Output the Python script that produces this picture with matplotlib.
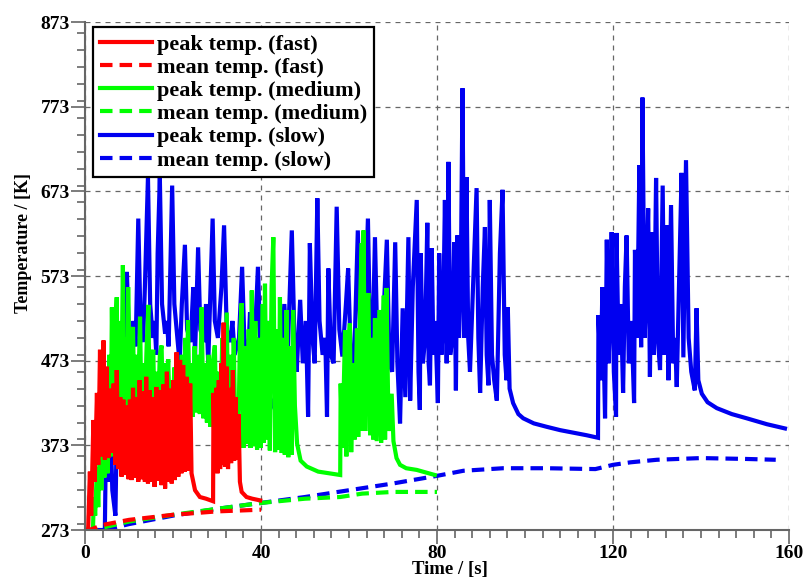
import matplotlib
matplotlib.use("Agg")
import matplotlib.pyplot as plt
from matplotlib.ticker import MultipleLocator

# (time [s], temperature [K]) vertices
fast_peak = [
    (0, 273), (0.7, 273), (1.1, 342), (1.4, 290), (1.9, 403), (2.2, 330), (2.7, 435),
    (3.0, 350), (3.4, 486), (3.7, 360), (4.2, 497), (4.5, 356), (4.9, 466), (5.3, 358),
    (5.7, 440), (6.1, 364), (6.5, 446), (6.9, 350), (7.2, 462), (7.6, 345), (8.0, 430),
    (8.3, 336), (8.7, 427), (9.1, 338), (9.5, 420), (9.9, 333), (10.2, 427), (10.6, 332),
    (10.9, 441), (11.3, 335), (11.7, 430), (12.1, 330), (12.4, 450), (12.8, 333),
    (13.2, 437), (13.6, 330), (13.9, 454), (14.3, 328), (14.7, 438), (15.1, 330),
    (15.5, 430), (15.8, 324), (16.2, 442), (16.6, 331), (17.0, 438), (17.4, 326),
    (17.8, 445), (18.2, 322), (18.6, 460), (19.0, 330), (19.3, 440), (19.7, 328),
    (20.1, 450), (20.4, 332), (20.8, 483), (21.2, 336), (21.6, 474), (21.9, 340),
    (22.3, 468), (22.7, 342), (23.1, 454), (23.5, 343), (23.9, 446), (24.2, 340),
    (24.6, 330), (25.0, 320), (26.1, 312), (27.5, 310), (29.1, 307),
    (29.2, 435), (29.5, 352), (29.8, 441), (30.1, 340), (30.4, 450), (30.7, 345),
    (31.0, 470), (31.2, 350), (31.5, 518), (31.8, 348), (32.2, 466), (32.5, 345),
    (32.9, 441), (33.2, 352), (33.6, 462), (33.9, 355), (34.2, 430), (34.6, 356),
    (34.9, 410), (35.2, 330), (35.6, 318), (36.7, 312), (38.0, 310), (39.8, 308),
]
fast_mean = [(0, 273), (1.0, 273), (4.0, 279), (10, 285), (20, 291), (30, 295), (40, 297)]

medium_peak = [
    (0, 273), (1.8, 273), (2.0, 312), (2.3, 290), (2.7, 347), (3.0, 300), (3.4, 380),
    (3.7, 320), (4.1, 397), (4.4, 335), (4.8, 450), (5.1, 340), (5.5, 480), (5.8, 360),
    (6.1, 536), (6.5, 380), (6.8, 500), (7.2, 548), (7.5, 400), (7.9, 520), (8.2, 410),
    (8.6, 586), (8.9, 420), (9.3, 500), (9.6, 410), (9.8, 560), (10.2, 420), (10.6, 490),
    (10.9, 513), (11.2, 415), (11.6, 480), (12.0, 410), (12.5, 525), (12.8, 415),
    (13.2, 470), (13.6, 420), (14.0, 490), (14.4, 539), (14.7, 410), (15.1, 470),
    (15.5, 486), (15.8, 410), (16.2, 460), (16.6, 415), (17.0, 480), (17.4, 491),
    (17.7, 412), (18.1, 470), (18.5, 410), (18.9, 475), (19.2, 415), (19.6, 450),
    (19.9, 410), (20.3, 465), (20.7, 405), (21.1, 470), (21.5, 410), (22.0, 480),
    (22.3, 405), (22.8, 500), (23.1, 410), (23.4, 521), (23.8, 405), (24.2, 470),
    (24.5, 407), (24.9, 490), (25.3, 412), (25.7, 480), (26.1, 410), (26.5, 536),
    (26.9, 405), (27.3, 470), (27.7, 400), (28.1, 480), (28.5, 395), (29.0, 470),
    (29.5, 491), (29.9, 390), (30.3, 460), (30.7, 385), (31.2, 500), (31.6, 380),
    (32.2, 530), (32.6, 375), (33.0, 480), (33.4, 372), (33.8, 500), (34.2, 370),
    (34.8, 367), (35.2, 500), (35.6, 541), (36.0, 370), (36.4, 490), (36.8, 375),
    (37.2, 510), (37.6, 370), (37.9, 556), (38.3, 372), (38.7, 520), (39.1, 368),
    (39.5, 500), (39.9, 370), (40.4, 540), (40.6, 376), (40.9, 564), (41.3, 380),
    (41.7, 520), (42.0, 367), (42.4, 560), (42.8, 619), (43.2, 365), (43.6, 510),
    (44.0, 368), (44.3, 548), (44.7, 364), (45.1, 500), (45.4, 362), (45.8, 533),
    (46.2, 359), (46.6, 490), (47.0, 362), (47.3, 533), (47.7, 420), (48.2, 375),
    (49.0, 355), (50.4, 348), (53.0, 342), (58.0, 338),
    (58.1, 446), (58.5, 370), (59.1, 509), (59.4, 360), (59.8, 490), (60.2, 517),
    (60.5, 365), (60.9, 470), (61.3, 380), (61.8, 511), (62.1, 383), (62.5, 540),
    (62.9, 612), (63.1, 390), (63.3, 627), (63.7, 390), (64.0, 520), (64.4, 553),
    (64.8, 385), (65.2, 500), (65.5, 380), (65.9, 523), (66.3, 378), (66.9, 533),
    (67.3, 376), (67.9, 550), (68.2, 380), (68.5, 559), (69.0, 390), (69.7, 434),
    (70.1, 378), (70.8, 358), (71.6, 350), (73.0, 346), (75.4, 344), (79.5, 338),
]
medium_mean = [(0, 273), (2.0, 273), (5, 277), (10, 283), (20, 291), (30, 298),
               (40, 305), (50, 310), (58, 312), (63, 316), (70, 318), (80, 318)]

slow_peak = [
    (0, 273), (4.5, 273), (4.8, 400), (5.2, 330), (5.6, 430), (6.2, 320), (6.9, 290),
    (7.3, 420), (7.8, 500), (8.5, 470), (9.0, 510), (9.5, 578), (10.0, 500), (10.6, 480),
    (11.0, 520), (11.5, 490), (12.1, 641), (12.6, 520), (13.2, 495), (13.6, 560),
    (14.3, 690), (14.8, 540), (15.4, 500), (15.8, 520), (16.2, 480), (16.5, 600),
    (17.0, 690), (17.5, 540), (18.2, 505), (18.6, 520), (19.0, 490), (19.8, 680),
    (20.3, 540), (21.0, 500), (21.5, 470), (22.0, 540), (22.7, 610), (23.2, 510),
    (24.0, 495), (24.6, 560), (25.0, 480), (25.7, 607), (26.2, 510), (27.0, 495),
    (27.5, 540), (28.0, 470), (29.0, 641), (29.5, 520), (30.2, 500), (31.0, 560),
    (31.6, 633), (32.2, 510), (33.0, 495), (33.5, 520), (34.0, 480), (35.0, 500),
    (35.7, 584), (36.2, 500), (37.0, 470), (37.5, 530), (38.0, 440), (38.6, 500),
    (39.3, 584), (39.8, 500), (40.5, 480), (41.5, 520), (42.0, 430), (43.2, 415),
    (43.8, 500), (44.5, 470), (45.3, 540), (46.0, 470), (47.0, 627), (47.6, 500),
    (48.1, 460), (48.9, 545), (49.5, 470), (50.2, 520), (50.7, 407), (51.1, 612),
    (51.7, 500), (52.2, 470), (52.8, 665), (53.3, 520), (54.0, 480), (54.6, 500),
    (55.0, 407), (55.3, 582), (55.9, 480), (56.5, 470), (57.2, 655), (57.8, 510),
    (58.5, 478), (59.3, 540), (59.8, 582), (60.4, 480), (61.0, 440), (62.0, 627),
    (62.6, 500), (63.3, 470), (64.3, 641), (64.8, 500), (65.3, 475), (65.9, 619),
    (66.5, 480), (67.2, 450), (67.8, 520), (68.6, 616), (69.2, 470), (69.8, 460),
    (70.5, 613), (71.0, 470), (71.6, 399), (72.2, 535), (72.8, 430), (73.5, 619),
    (73.9, 426), (74.5, 560), (75.4, 663), (75.8, 460), (76.1, 415), (76.3, 600),
    (76.8, 470), (77.3, 500), (77.8, 636), (78.1, 470), (78.4, 444), (78.8, 606),
    (79.2, 480), (79.6, 520), (80.2, 423), (80.5, 600), (81.0, 480), (81.4, 520),
    (81.8, 663), (82.2, 470), (82.6, 708), (83.0, 480), (83.5, 500), (83.9, 613),
    (84.3, 438), (84.6, 621), (85.0, 500), (85.4, 560), (85.8, 795), (86.2, 500),
    (86.7, 690), (87.1, 500), (87.5, 460), (88.2, 560), (89.0, 677), (89.4, 500),
    (89.8, 435), (90.4, 560), (90.9, 631), (91.3, 480), (91.7, 444), (92.0, 663),
    (92.5, 480), (93.0, 450), (93.6, 426), (94.3, 600), (94.9, 675), (95.4, 480),
    (95.8, 450), (96.1, 536), (96.5, 440), (97.3, 423), (98.5, 410), (99.6, 405),
    (102.0, 399), (104.9, 395), (108.0, 391), (111.0, 388), (114.0, 385), (116.6, 382),
    (116.7, 527), (117.2, 450), (117.6, 560), (118.2, 405), (118.6, 616), (119.0, 470),
    (119.3, 520), (119.7, 625), (120.2, 460), (120.7, 407), (120.8, 624), (121.3, 480),
    (121.8, 540), (122.3, 435), (122.7, 560), (123.1, 621), (123.6, 470), (124.2, 520),
    (124.8, 423), (125.0, 604), (125.5, 500), (126.0, 704), (126.4, 489), (126.7, 784),
    (127.2, 500), (127.6, 560), (128.0, 653), (128.4, 454), (128.8, 625), (129.3, 480),
    (129.8, 689), (130.2, 500), (130.7, 462), (131.3, 680), (131.7, 480), (132.2, 633),
    (132.6, 450), (133.2, 657), (133.7, 470), (134.1, 500), (134.5, 442), (135.0, 560),
    (135.6, 695), (136.0, 477), (136.6, 710), (137.2, 500), (137.8, 460), (138.6, 438),
    (139.0, 535), (139.4, 450), (140.2, 434), (141.5, 424), (143.6, 417), (147.0, 410),
    (150.4, 405), (155.0, 398), (159.1, 393),
]
slow_mean = [(0, 273), (3, 273), (6, 275), (10, 280), (20, 290), (30, 298), (40, 305),
             (50, 312), (60, 320), (70, 328), (80, 337), (86, 343), (95, 346),
             (105, 346), (116, 345), (120, 350), (124, 353), (130, 356), (140, 358),
             (150, 357), (157, 356)]

x_ticks = [0, 40, 80, 120, 160]
y_ticks = [273, 373, 473, 573, 673, 773, 873]

plt.rcParams["font.family"] = ["Liberation Serif", "DejaVu Serif"]
plt.rcParams["font.weight"] = "bold"

fig = plt.figure(figsize=(8.1, 5.85), dpi=100)
ax = fig.add_axes([0.105, 0.094, 0.869, 0.868])

lw = 3.0
dash = (3.0, 1.7)
series = [
    ("fast", "#ff0000", fast_peak, fast_mean),
    ("medium", "#00ff00", medium_peak, medium_mean),
    ("slow", "#0000f0", slow_peak, slow_mean),
]
handles = {}
# slow drawn first so fast ends up on top, as in the original
for name, col, peak, mean in reversed(series):
    t, T = zip(*peak)
    hp, = ax.plot(t, T, color=col, lw=lw, solid_joinstyle="miter",
                  label=f"peak temp. ({name})")
    t, T = zip(*mean)
    hm, = ax.plot(t, T, color=col, lw=lw, ls=(0, dash),
                  label=f"mean temp. ({name})")
    handles[name] = (hp, hm)

order = [h for name, _, _, _ in series for h in handles[name]]
leg = ax.legend(handles=order, loc="upper left", bbox_to_anchor=(0.0114, 0.990),
                borderaxespad=0, fancybox=False, framealpha=1, edgecolor="black",
                handlelength=2.35, handletextpad=0.22, labelspacing=0.12,
                borderpad=0.3, prop={"size": 16, "weight": "bold"})
leg.get_frame().set_linewidth(1.6)

ax.set_xlim(0, 160)
ax.set_ylim(273, 873)
ax.set_xticks(x_ticks)
ax.set_yticks(y_ticks)
ax.xaxis.set_minor_locator(MultipleLocator(4))
ax.yaxis.set_minor_locator(MultipleLocator(20))
ax.tick_params(which="both", direction="out", color="#666666", width=1.2,
               labelsize=14)
ax.tick_params(which="major", length=10, pad=1)
ax.tick_params(which="minor", length=5.5)
ax.grid(True, which="major", ls=(0, (4, 4)), color="#666666", lw=0.9)
for s in ("top", "right"):
    ax.spines[s].set_visible(False)
for s in ("left", "bottom"):
    ax.spines[s].set_color("#666666")
    ax.spines[s].set_linewidth(1.5)

ax.set_xlabel("Time / [s]", fontsize=13.5, fontweight="bold")
ax.xaxis.set_label_coords(0.518, -0.062)
ax.set_ylabel("Temperature / [K]", fontsize=13, fontweight="bold")
ax.yaxis.set_label_coords(-0.076, 0.565)

fig.savefig("out.png", dpi=100)
